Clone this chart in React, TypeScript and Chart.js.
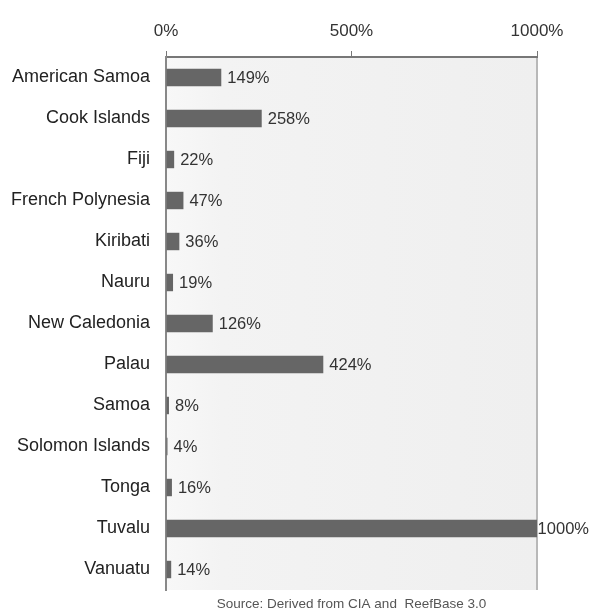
import React, { useEffect, useRef } from "react";
import { Chart, registerables } from "chart.js";

Chart.register(...registerables);

const categories = [
  "American Samoa",
  "Cook Islands",
  "Fiji",
  "French Polynesia",
  "Kiribati",
  "Nauru",
  "New Caledonia",
  "Palau",
  "Samoa",
  "Solomon Islands",
  "Tonga",
  "Tuvalu",
  "Vanuatu",
];
const values = [149, 258, 22, 47, 36, 19, 126, 424, 8, 4, 16, 1000, 14];
const axisMin = 0;
const axisMax = 1000;
const axisStep = 500;
const sourceText = "Source: Derived from CIA and  ReefBase 3.0";

const FONT = "'Liberation Sans', Arial, sans-serif";

const decorPlugin = {
  id: "decor",
  beforeDraw(chart: any) {
    const { ctx, chartArea } = chart;
    const { left, right, top, bottom } = chartArea;
    ctx.save();
    const g = ctx.createLinearGradient(left, 0, right, 0);
    g.addColorStop(0, "#f8f8f8");
    g.addColorStop(0.15, "#f3f3f3");
    g.addColorStop(1, "#efefef");
    ctx.fillStyle = g;
    ctx.fillRect(left, top, right - left, bottom - top);
    ctx.strokeStyle = "#b8b8b8";
    ctx.lineWidth = 2;
    ctx.beginPath();
    ctx.moveTo(right, top);
    ctx.lineTo(right, bottom);
    ctx.stroke();
    ctx.restore();
  },
  afterDatasetsDraw(chart: any) {
    const { ctx } = chart;
    const meta = chart.getDatasetMeta(0);
    ctx.save();
    ctx.font = `16.5px ${FONT}`;
    ctx.fillStyle = "#333333";
    ctx.textBaseline = "middle";
    ctx.textAlign = "left";
    meta.data.forEach((bar: any, i: number) => {
      const txt = values[i] + "%";
      const w = ctx.measureText(txt).width;
      const x = Math.min(bar.x + 6, chart.width - w - 4);
      ctx.fillText(txt, x, bar.y + 1);
    });
    ctx.font = `13.5px ${FONT}`;
    ctx.fillStyle = "#555555";
    ctx.textAlign = "center";
    const ca = chart.chartArea;
    ctx.fillText(sourceText, (ca.left + ca.right) / 2, 604);
    ctx.restore();
  },
};

export default function App() {
  const ref = useRef<HTMLCanvasElement>(null);
  useEffect(() => {
    if (!ref.current) return;
    const chart = new Chart(ref.current, {
      type: "bar",
      data: {
        labels: categories,
        datasets: [
          {
            data: values,
            backgroundColor: "#666666",
            borderWidth: 0,
            barPercentage: 0.85,
            categoryPercentage: 0.5,
          },
        ],
      },
      options: {
        indexAxis: "y",
        animation: false,
        responsive: false,
        maintainAspectRatio: false,
        layout: { padding: { left: 0, right: 56, top: 22, bottom: 25 } },
        plugins: {
          legend: { display: false },
          tooltip: { enabled: false },
        },
        scales: {
          x: {
            position: "top",
            min: axisMin,
            max: axisMax,
            afterFit(s: any) {
              s.height = 35;
            },
            ticks: {
              stepSize: axisStep,
              color: "#333333",
              font: { size: 17, family: FONT },
              padding: 9,
              callback: (v: any) => v + "%",
            },
            grid: {
              drawOnChartArea: false,
              drawTicks: true,
              tickLength: 6,
              color: "#777777",
            },
            border: { display: true, color: "#777777", width: 2 },
          },
          y: {
            afterFit(s: any) {
              s.width = 166;
            },
            ticks: {
              color: "#222222",
              font: { size: 18, family: FONT },
              padding: 8,
            },
            grid: { display: false },
            border: { display: true, color: "#888888", width: 2 },
          },
        },
      },
      plugins: [decorPlugin],
    });
    return () => chart.destroy();
  }, []);
  return (
    <div style={{ position: "fixed", left: 0, top: 0, width: 593, height: 615, background: "#fff" }}>
      <canvas ref={ref} width={593} height={615} style={{ width: 593, height: 615 }} />
    </div>
  );
}
